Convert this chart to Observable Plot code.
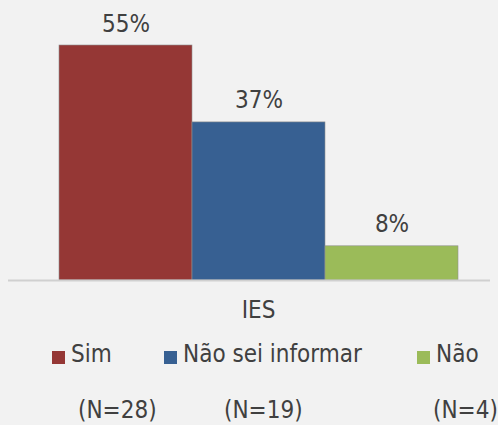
<!DOCTYPE html>
<html>
<head>
<meta charset="utf-8">
<script src="https://cdn.jsdelivr.net/npm/d3@7"></script>
<script src="https://cdn.jsdelivr.net/npm/@observablehq/plot@0.6"></script>
<style>
  html, body { margin: 0; padding: 0; background: #f2f2f2; }
  body { width: 498px; height: 425px; position: relative; overflow: hidden;
         font-family: "DejaVu Sans Condensed", "DejaVu Sans", sans-serif; color: #404040; }
  #chart { position: absolute; left: 0; top: 0; }
  .leg { position: absolute; top: 341px; font-size: 24px; line-height: 26px; height: 26px; white-space: nowrap; }
  .leg .sw { position: absolute; left: 0; top: 10px; width: 13px; height: 13px; }
  .leg .tx { position: absolute; left: 19px; top: 0; }
  .n { position: absolute; top: 397px; font-size: 24px; line-height: 26px; white-space: nowrap; }
</style>
</head>
<body>
<div id="chart"></div>
<script>
const group = "IES";
const categories = ["Sim", "Não sei informar", "Não"];
const values = [55, 37, 8];
const counts = [28, 19, 4];
const colors = ["#953735", "#376092", "#9bbb59"];

const data = categories.map((c, i) => ({cat: c, v: values[i], label: values[i] + "%"}));

const plot = Plot.plot({
  width: 498,
  height: 325,
  marginLeft: 8,
  marginRight: 8,
  marginTop: 45,
  marginBottom: 45,
  style: {background: "#f2f2f2", fontFamily: "'DejaVu Sans Condensed', 'DejaVu Sans', sans-serif", color: "#404040"},
  x: {domain: categories, range: [59, 458], padding: 0, axis: null},
  y: {domain: [0, 55], axis: null},
  color: {domain: categories, range: colors},
  marks: [
    Plot.barY(data, {x: "cat", y: "v", fill: "cat", stroke: "#8f8f8f", strokeWidth: 0.6}),
    Plot.ruleY([0], {stroke: "#d0d0d0", strokeWidth: 2}),
    Plot.text(data, {x: "cat", y: "v", text: "label", dy: -14, lineAnchor: "bottom", fontSize: 24, fill: "#404040"}),
    Plot.text([group], {frameAnchor: "bottom", dy: 37, fontSize: 24, fill: "#404040", dx: 9})
  ]
});
document.getElementById("chart").appendChild(plot);

const legLeft = [52, 164, 417];
const nLeft = [78, 224, 433];
categories.forEach((c, i) => {
  const d = document.createElement("div");
  d.className = "leg";
  d.style.left = legLeft[i] + "px";
  d.innerHTML = `<span class="sw" style="background:${colors[i]}"></span><span class="tx">${c}</span>`;
  document.body.appendChild(d);
  const n = document.createElement("div");
  n.className = "n";
  n.style.left = nLeft[i] + "px";
  n.textContent = `(N=${counts[i]})`;
  document.body.appendChild(n);
});
</script>
</body>
</html>
